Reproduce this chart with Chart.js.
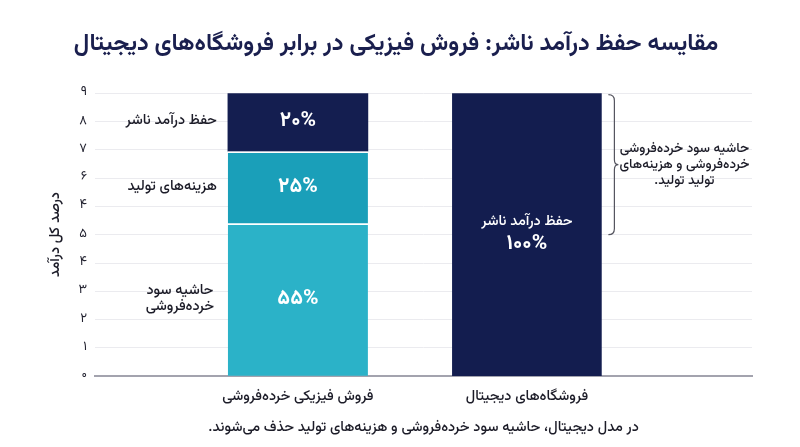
<!DOCTYPE html>
<html lang="fa">
<head>
<meta charset="utf-8">
<script src="https://cdn.jsdelivr.net/npm/chart.js@4.4.1/dist/chart.umd.min.js"></script>
<style>
  html, body { margin: 0; padding: 0; background: #ffffff; }
  #wrap { width: 800px; height: 447px; }
  canvas { direction: rtl; }
</style>
</head>
<body>
<div id="wrap"><canvas id="c" width="800" height="447"></canvas></div>
<script>
// ---- data ----
const chartTitle = 'مقایسه حفظ درآمد ناشر: فروش فیزیکی در برابر فروشگاه‌های دیجیتال';
const categories = ['فروش فیزیکی خرده‌فروشی', 'فروشگاه‌های دیجیتال'];
const segmentNames = ['حاشیه سود\nخرده‌فروشی', 'هزینه‌های تولید', 'حفظ درآمد ناشر'];
const physicalValues = [54, 25.5, 20.5];
const physicalLabels = ['۵۵%', '۲۵%', '۲۰%'];
const digitalName = 'حفظ درآمد ناشر';
const digitalValue = 100;
const digitalLabel = '۱۰۰%';
const yTickLabels = ['۰', '۱', '۲', '۳', '۴', '۵', '۴', '۶', '۷', '۸', '۹'];
const yAxisTitle = 'درصد کل درآمد';
const xAxisTitle = 'در مدل دیجیتال، حاشیه سود خرده‌فروشی و هزینه‌های تولید حذف می‌شوند.';
const braceNote = ['حاشیه سود خرده‌فروشی', 'خرده‌فروشی و هزینه‌های', 'تولید تولید.'];
const braceRange = [50, 100];

const FONT = "'Vazirmatn','Noto Sans Arabic','DejaVu Sans','Noto Sans',sans-serif";
const segColors = ['#2bb2c8', '#1a9fb9', '#141e50'];
const navy = '#131d4f';

const datasets = physicalValues.map((v, i) => ({
  label: segmentNames[i].replace('\n', ' '),
  data: [{ x: 0, y: v }],
  backgroundColor: segColors[i],
  borderColor: i < 2 ? 'rgba(255,255,255,0.35)' : 'rgba(0,0,0,0)',
  borderWidth: i < 2 ? { top: 2, left: 0, right: 0, bottom: 0 } : 0,
  borderSkipped: false,
  barThickness: 140,
  stack: 'all'
}));
datasets.push({
  label: digitalName,
  data: [{ x: 1, y: digitalValue }],
  backgroundColor: navy,
  borderWidth: 0,
  barThickness: 149,
  stack: 'all'
});

const labelPlugin = {
  id: 'labels',
  afterDatasetsDraw(chart) {
    const ctx = chart.ctx;
    const ys = chart.scales.y;
    ctx.save();
    ctx.textBaseline = 'middle';
    physicalValues.forEach((v, i) => {
      const el = chart.getDatasetMeta(i).data[0];
      const cy = (el.y + el.base) / 2;
      const left = el.x - el.width / 2;
      ctx.fillStyle = '#ffffff';
      ctx.font = 'bold 21px ' + FONT;
      ctx.textAlign = 'center';
      ctx.fillText(physicalLabels[i], el.x, cy + 1);
      const lines = segmentNames[i].split('\n');
      ctx.fillStyle = '#1c1c28';
      ctx.font = '500 14.5px ' + FONT;
      if (lines.length === 1) {
        ctx.textAlign = 'right';
        ctx.fillText(lines[0], left - 11, cy);
      } else {
        ctx.textAlign = 'center';
        const lh = 16;
        lines.forEach((ln, k) => {
          ctx.fillText(ln, left - 48, cy + (k - (lines.length - 1) / 2) * lh);
        });
      }
    });
    const del = chart.getDatasetMeta(physicalValues.length).data[0];
    const dcy = (del.y + del.base) / 2;
    ctx.fillStyle = '#ffffff';
    ctx.textAlign = 'center';
    ctx.font = '500 14.5px ' + FONT;
    ctx.fillText(digitalName, del.x, dcy - 12);
    ctx.font = 'bold 21px ' + FONT;
    ctx.fillText(digitalLabel, del.x, dcy + 11);
    const right = del.x + del.width / 2;
    const y1 = ys.getPixelForValue(braceRange[1]) + 1.5;
    const y2 = ys.getPixelForValue(braceRange[0]);
    const ym = (y1 + y2) / 2;
    const x0 = right + 7, xv = right + 13, xt = right + 17;
    ctx.strokeStyle = '#55555f';
    ctx.lineWidth = 1.2;
    ctx.beginPath();
    ctx.moveTo(x0, y1);
    ctx.quadraticCurveTo(xv, y1, xv, y1 + 6);
    ctx.lineTo(xv, ym - 5);
    ctx.quadraticCurveTo(xv, ym, xt, ym);
    ctx.quadraticCurveTo(xv, ym, xv, ym + 5);
    ctx.lineTo(xv, y2 - 6);
    ctx.quadraticCurveTo(xv, y2, x0, y2);
    ctx.stroke();
    ctx.fillStyle = '#1c1c28';
    ctx.font = '500 13.5px ' + FONT;
    ctx.textAlign = 'center';
    const lh = 16;
    braceNote.forEach((ln, k) => {
      ctx.fillText(ln, right + 83, ym + 1 + (k - (braceNote.length - 1) / 2) * lh);
    });
    ctx.restore();
  }
};

new Chart(document.getElementById('c'), {
  type: 'bar',
  data: { datasets },
  options: {
    responsive: false,
    animation: false,
    devicePixelRatio: 1,
    layout: { padding: { top: 0, left: 40, right: 48, bottom: 6 } },
    plugins: {
      legend: { display: false },
      tooltip: { enabled: false },
      title: {
        display: true,
        text: chartTitle,
        color: '#1a1f4e',
        font: { family: FONT, size: 23.5, weight: 'bold' },
        padding: { top: 32, bottom: 33 }
      }
    },
    scales: {
      x: {
        type: 'linear',
        offset: false,
        min: -0.886,
        max: 1.983,
        grid: { display: false, drawTicks: false, offset: false },
        border: { display: true, color: '#a3a3ae', width: 2 },
        afterBuildTicks(scale) { scale.ticks = [{ value: 0 }, { value: 1 }]; },
        ticks: {
          padding: 13,
          color: '#1c1c28',
          font: { family: FONT, size: 14.5, weight: '500' },
          callback: (v) => categories[v] ?? ''
        },
        title: {
          display: true,
          text: xAxisTitle,
          color: '#1c1c28',
          font: { family: FONT, size: 14.5, weight: '500' },
          padding: { top: 0, bottom: 4 }
        }
      },
      y: {
        stacked: true,
        min: 0,
        max: 100,
        afterFit(scale) { scale.width = 55; },
        grid: { color: '#ebebef', lineWidth: 1, drawTicks: false },
        border: { display: false },
        afterBuildTicks(scale) {
          scale.ticks = yTickLabels.map((_, i) => ({ value: i * 10 }));
        },
        ticks: {
          padding: 8,
          color: '#222230',
          font: { family: FONT, size: 13 },
          callback: (v) => yTickLabels[Math.round(v / 10)]
        },
        title: {
          display: true,
          text: yAxisTitle,
          color: '#1c1c28',
          font: { family: FONT, size: 14.5, weight: '500' },
          padding: { top: 8, bottom: 0 }
        }
      }
    }
  },
  plugins: [labelPlugin]
});
</script>
</body>
</html>
